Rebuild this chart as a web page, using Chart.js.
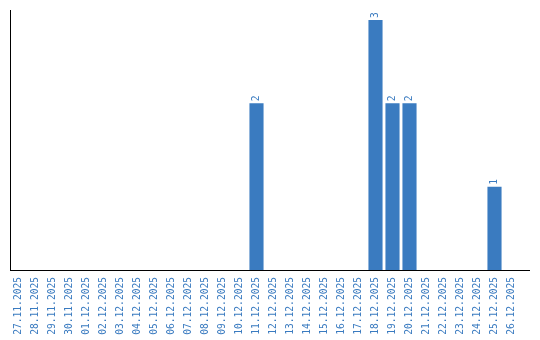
<!DOCTYPE html>
<html>
<head>
<meta charset="utf-8">
<script src="https://cdn.jsdelivr.net/npm/chart.js@4/dist/chart.umd.min.js"></script>
<style>
  html, body { margin: 0; padding: 0; background: #fff; }
</style>
</head>
<body>
<canvas id="chart" width="540" height="340"></canvas>
<script>
const days = [
    '27.11.2025', '28.11.2025', '29.11.2025', '30.11.2025', '01.12.2025',
    '02.12.2025', '03.12.2025', '04.12.2025', '05.12.2025', '06.12.2025',
    '07.12.2025', '08.12.2025', '09.12.2025', '10.12.2025', '11.12.2025',
    '12.12.2025', '13.12.2025', '14.12.2025', '15.12.2025', '16.12.2025',
    '17.12.2025', '18.12.2025', '19.12.2025', '20.12.2025', '21.12.2025',
    '22.12.2025', '23.12.2025', '24.12.2025', '25.12.2025', '26.12.2025'
];
const counts = [
    0, 0, 0, 0, 0,
    0, 0, 0, 0, 0,
    0, 0, 0, 0, 2,
    0, 0, 0, 0, 0,
    0, 3, 2, 2, 0,
    0, 0, 0, 1, 0
];

const blue = '#3a7bc0';
const monoFont = 'DejaVu Sans Mono';

// value labels, rotated, above each bar
const barLabels = {
    id: 'barLabels',
    afterDatasetsDraw(chart) {
        const ctx = chart.ctx;
        const meta = chart.getDatasetMeta(0);
        ctx.save();
        ctx.fillStyle = blue;
        ctx.font = '9.6px ' + monoFont;
        ctx.textAlign = 'left';
        ctx.textBaseline = 'middle';
        meta.data.forEach((bar, i) => {
            if (!counts[i]) return;
            ctx.save();
            ctx.translate(bar.x, bar.y - 2);
            ctx.rotate(-Math.PI / 2);
            ctx.fillText(String(counts[i]), 0, 0);
            ctx.restore();
        });
        ctx.restore();
    }
};

// bottom axis line runs a bit past the last category
const bottomLine = {
    id: 'bottomLine',
    afterDraw(chart) {
        const a = chart.chartArea;
        const ctx = chart.ctx;
        ctx.save();
        ctx.strokeStyle = '#000';
        ctx.lineWidth = 1;
        ctx.beginPath();
        ctx.moveTo(a.left, Math.round(a.bottom) + 0.5);
        ctx.lineTo(530, Math.round(a.bottom) + 0.5);
        ctx.stroke();
        ctx.restore();
    }
};

new Chart(document.getElementById('chart').getContext('2d'), {
    type: 'bar',
    data: {
        labels: days,
        datasets: [{
            data: counts,
            backgroundColor: blue,
            borderWidth: 0,
            categoryPercentage: 1,
            barPercentage: 0.83
        }]
    },
    options: {
        responsive: false,
        animation: false,
        layout: { padding: { left: 2, top: 10, right: 20, bottom: 0 } },
        plugins: { legend: { display: false }, tooltip: { enabled: false } },
        scales: {
            x: {
                grid: { display: false, drawTicks: false },
                border: { display: false },
                afterFit(scale) { scale.height = 70; },
                ticks: {
                    color: blue,
                    font: { family: monoFont, size: 9.6 },
                    maxRotation: 90,
                    minRotation: 90,
                    autoSkip: false,
                    padding: 7
                }
            },
            y: {
                min: 0,
                max: 3.12,
                grid: { display: false },
                border: { display: true, color: '#000', width: 1 },
                ticks: { display: false }
            }
        }
    },
    plugins: [barLabels, bottomLine]
});
</script>
</body>
</html>
